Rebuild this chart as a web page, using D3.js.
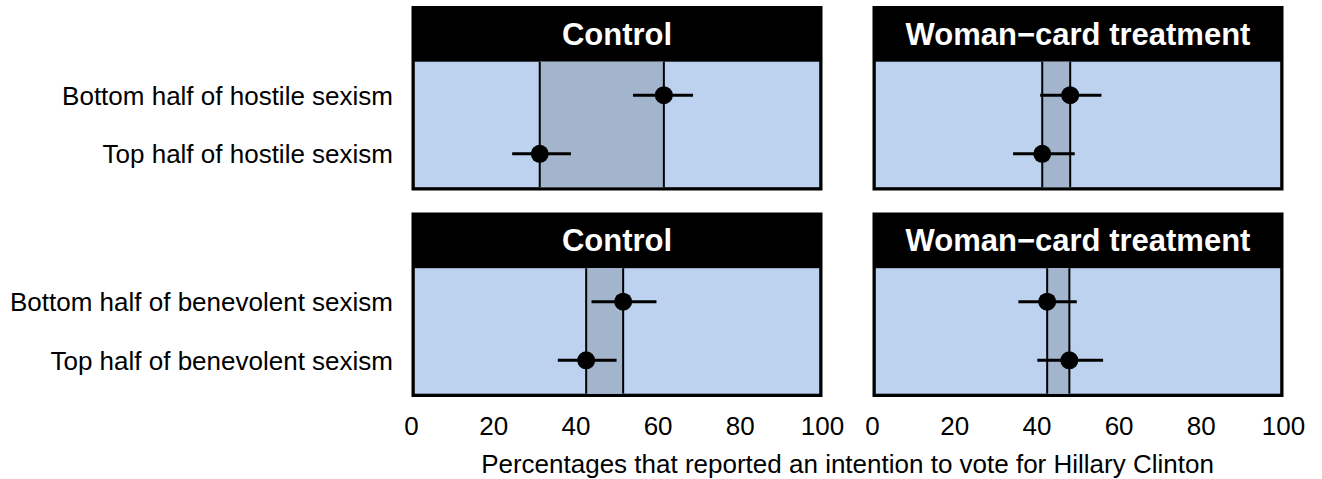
<!DOCTYPE html>
<html>
<head>
<meta charset="utf-8">
<script src="https://cdn.jsdelivr.net/npm/d3@7"></script>
<style>
  body { margin: 0; background: #fff; }
  svg { display: block; font-family: "Liberation Sans", Arial, sans-serif; }
</style>
</head>
<body>
<div id="chart"></div>
<script>
// data
var conditions = ['Control', 'Woman\u2212card treatment'];
var hostileRows = ['Bottom half of hostile sexism', 'Top half of hostile sexism'];
var benevolentRows = ['Bottom half of benevolent sexism', 'Top half of benevolent sexism'];

var hostileControl = [61.4, 31.2];
var hostileControlLow = [53.9, 24.5];
var hostileControlHigh = [68.5, 38.8];

var hostileWoman = [48.1, 41.3];
var hostileWomanLow = [40.8, 34.2];
var hostileWomanHigh = [55.7, 49.2];

var benevolentControl = [51.5, 42.5];
var benevolentControlLow = [43.8, 35.6];
var benevolentControlHigh = [59.6, 49.9];

var benevolentWoman = [42.5, 47.9];
var benevolentWomanLow = [35.5, 40.1];
var benevolentWomanHigh = [49.7, 56.1];

var xTicks = [0, 20, 40, 60, 80, 100];

var width = 1322, height = 479;
var bg = '#BCD2EE', shade = '#A2B5CD';

var svg = d3.select('#chart').append('svg')
    .attr('width', width)
    .attr('height', height);

// panel layout
var colLeft = [411.5, 872.5];
var panelW = 411;
var rowTop = [6, 212.5];
var blockH = 184.5;
var stripH = 55.7;
var border = 3.3;

var blocks = [
    {rows: hostileRows, panels: [
        {est: hostileControl, lo: hostileControlLow, hi: hostileControlHigh},
        {est: hostileWoman, lo: hostileWomanLow, hi: hostileWomanHigh}]},
    {rows: benevolentRows, panels: [
        {est: benevolentControl, lo: benevolentControlLow, hi: benevolentControlHigh},
        {est: benevolentWoman, lo: benevolentWomanLow, hi: benevolentWomanHigh}]}
];

blocks.forEach(function (b, bi) {
    var y0 = rowTop[bi];
    var innerTop = y0 + stripH;
    var innerBot = y0 + blockH - border;

    var y = d3.scalePoint()
        .domain(b.rows)
        .range([innerTop, innerBot])
        .padding(0.57);

    // row labels
    svg.selectAll(null)
        .data(b.rows)
        .enter()
        .append('text')
        .attr('x', 393)
        .attr('y', d => y(d) + 9.5)
        .attr('text-anchor', 'end')
        .attr('font-size', 26)
        .attr('fill', '#000')
        .text(d => d);

    b.panels.forEach(function (p, pi) {
        var x0 = colLeft[pi];
        var x = d3.scaleLinear().domain([0, 100]).range([x0, x0 + panelW]);
        var g = svg.append('g');

        // outer frame + strip
        g.append('rect')
            .attr('x', x0).attr('y', y0)
            .attr('width', panelW).attr('height', blockH)
            .attr('fill', '#000');
        g.append('text')
            .attr('x', x0 + panelW / 2)
            .attr('y', y0 + stripH / 2 + 11)
            .attr('text-anchor', 'middle')
            .attr('font-size', 31)
            .attr('font-weight', 'bold')
            .attr('fill', '#fff')
            .text(conditions[pi]);

        g.append('rect')
            .attr('x', x0 + border).attr('y', innerTop)
            .attr('width', panelW - 2 * border).attr('height', innerBot - innerTop)
            .attr('fill', bg);

        var lo = d3.min(p.est), hi = d3.max(p.est);
        g.append('rect')
            .attr('x', x(lo)).attr('y', innerTop)
            .attr('width', x(hi) - x(lo)).attr('height', innerBot - innerTop)
            .attr('fill', shade);

        g.selectAll('line.ref')
            .data(p.est)
            .enter()
            .append('line')
            .attr('class', 'ref')
            .attr('x1', d => x(d)).attr('x2', d => x(d))
            .attr('y1', innerTop).attr('y2', innerBot)
            .attr('stroke', '#000')
            .attr('stroke-width', 2);

        g.selectAll('line.err')
            .data(b.rows)
            .enter()
            .append('line')
            .attr('class', 'err')
            .attr('x1', (d, i) => x(p.lo[i]))
            .attr('x2', (d, i) => x(p.hi[i]))
            .attr('y1', d => y(d)).attr('y2', d => y(d))
            .attr('stroke', '#000')
            .attr('stroke-width', 3);

        g.selectAll('circle')
            .data(b.rows)
            .enter()
            .append('circle')
            .attr('cx', (d, i) => x(p.est[i]))
            .attr('cy', d => y(d))
            .attr('r', 9)
            .attr('fill', '#000');

        // x axis labels only under the bottom row
        if (bi == blocks.length - 1) {
            g.selectAll('text.tick')
                .data(xTicks)
                .enter()
                .append('text')
                .attr('class', 'tick')
                .attr('x', d => x(d))
                .attr('y', 435)
                .attr('text-anchor', 'middle')
                .attr('font-size', 26)
                .text(d => d);
        }
    });
});

svg.append('text')
    .attr('x', (colLeft[0] + colLeft[1] + panelW) / 2)
    .attr('y', 473)
    .attr('text-anchor', 'middle')
    .attr('font-size', 26)
    .text('Percentages that reported an intention to vote for Hillary Clinton');
</script>
</body>
</html>
